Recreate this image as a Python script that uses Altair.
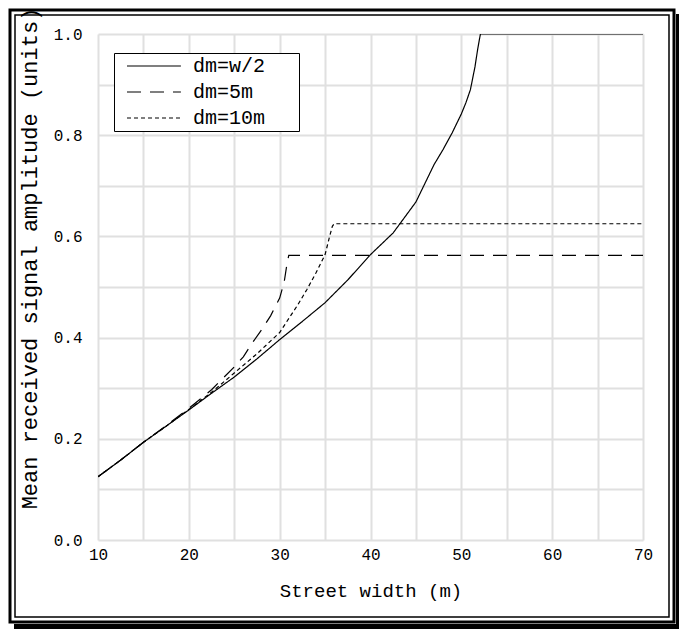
import altair as alt
import pandas as pd

series_names = ["dm=w/2", "dm=5m", "dm=10m"]

solid_x = [10, 12.5, 15, 17.5, 20, 22.5, 25, 27.5, 30, 32.5, 35, 37.5, 40, 42.5, 45,
           47, 48, 49, 50, 50.5, 51, 51.5, 51.8, 52.1, 55, 60, 65, 70]
solid_y = [0.125, 0.158, 0.193, 0.225, 0.257, 0.29, 0.322, 0.358, 0.396, 0.432, 0.469,
           0.514, 0.564, 0.607, 0.668, 0.742, 0.772, 0.805, 0.842, 0.864, 0.89, 0.935,
           0.97, 1.0, 1.0, 1.0, 1.0, 1.0]

dashed_x = [10, 12.5, 15, 17.5, 20, 22.5, 25, 26, 27, 28, 29, 30, 30.5, 30.8, 31.0,
            40, 50, 60, 70]
dashed_y = [0.125, 0.158, 0.193, 0.226, 0.26, 0.297, 0.342, 0.362, 0.39, 0.415, 0.443,
            0.478, 0.51, 0.545, 0.5625, 0.5625, 0.5625, 0.5625, 0.5625]

dotted_x = [10, 12.5, 15, 17.5, 20, 22.5, 25, 27.5, 30, 32, 33, 34, 35, 35.5, 35.8,
            36, 50, 70]
dotted_y = [0.125, 0.158, 0.193, 0.225, 0.258, 0.292, 0.33, 0.368, 0.41, 0.465, 0.495,
            0.528, 0.564, 0.6, 0.62, 0.625, 0.625, 0.625]

x_ticks = [10, 15, 20, 25, 30, 35, 40, 45, 50, 55, 60, 65, 70]
y_ticks = [0.0, 0.1, 0.2, 0.3, 0.4, 0.5, 0.6, 0.7, 0.8, 0.9, 1.0]

rows = []
for name, xs, ys in zip(series_names, [solid_x, dashed_x, dotted_x], [solid_y, dashed_y, dotted_y]):
    for i, (x, y) in enumerate(zip(xs, ys)):
        rows.append({"series": name, "width": x, "amp": y, "order": i})
df = pd.DataFrame(rows)

W, H = 545, 506
MONO = "Liberation Mono"
BLANK = "\u2800"

lines = alt.Chart(df).mark_line(color="black", strokeWidth=1.2, clip=True).encode(
    x=alt.X("width:Q",
            scale=alt.Scale(domain=[10, 70], nice=False, zero=False),
            axis=alt.Axis(values=x_ticks, title="Street width (m)",
                          labelExpr="datum.value % 10 == 0 ? datum.label : ''",
                          labelFlush=False, labelPadding=6, titlePadding=19,
                          titleFontSize=19)),
    y=alt.Y("amp:Q",
            scale=alt.Scale(domain=[0, 1], nice=False),
            axis=alt.Axis(values=y_ticks, format=".1f",
                          title="Mean received signal amplitude (units)",
                          labelExpr="round(datum.value*10) % 2 == 0 ? datum.label : ''",
                          labelFlush=False, labelPadding=16, titlePadding=12,
                          titleFontSize=22, titleY=224)),
    strokeDash=alt.StrokeDash("series:N",
                              scale=alt.Scale(domain=series_names,
                                              range=[[1, 0], [14, 9], [4, 3]]),
                              legend=alt.Legend(title=None, orient="none", legendX=16, legendY=19,
                                                symbolType="M-1,0H6.7", symbolSize=196,
                                                symbolOffset=7,
                                                symbolStrokeWidth=1.2, symbolStrokeColor="black",
                                                strokeColor="black", fillColor="white",
                                                padding=3, rowPadding=6,
                                                labelFont=MONO, labelFontSize=20,
                                                labelExpr="datum.label + '" + BLANK * 2 + "'",
                                                labelColor="black", labelOffset=49)),
    order=alt.Order("order:Q"),
)

one = alt.Data(values=[{}])
outer = alt.Chart(one).mark_rect(fill="white", fillOpacity=0, stroke="black", strokeWidth=3).encode(
    x=alt.value(-88), x2=alt.value(576), y=alt.value(-24), y2=alt.value(588))
inner = alt.Chart(one).mark_rect(fill="white", fillOpacity=0, stroke="black", strokeWidth=1.5).encode(
    x=alt.value(-83), x2=alt.value(571), y=alt.value(-19), y2=alt.value(583))
shadow_b = alt.Chart(one).mark_rect(color="black").encode(
    x=alt.value(-84), x2=alt.value(581), y=alt.value(590), y2=alt.value(595))
shadow_r = alt.Chart(one).mark_rect(color="black").encode(
    x=alt.value(578), x2=alt.value(581), y=alt.value(-20), y2=alt.value(595))

chart = alt.layer(outer, inner, shadow_b, shadow_r, lines).properties(
    width=W, height=H,
    padding={"left": 90, "top": 26, "right": 36, "bottom": 89},
    autosize=alt.AutoSizeParams(type="none"),
).configure_view(strokeWidth=0).configure_axis(
    domain=False, ticks=False, gridColor="#e0e0e0", gridWidth=2,
    labelFont=MONO, labelFontSize=16, labelColor="black",
    titleFont=MONO, titleFontSize=20, titleFontWeight="normal", titleColor="black",
)

chart.save("out.html", embed_options={"renderer": "svg", "actions": False})
